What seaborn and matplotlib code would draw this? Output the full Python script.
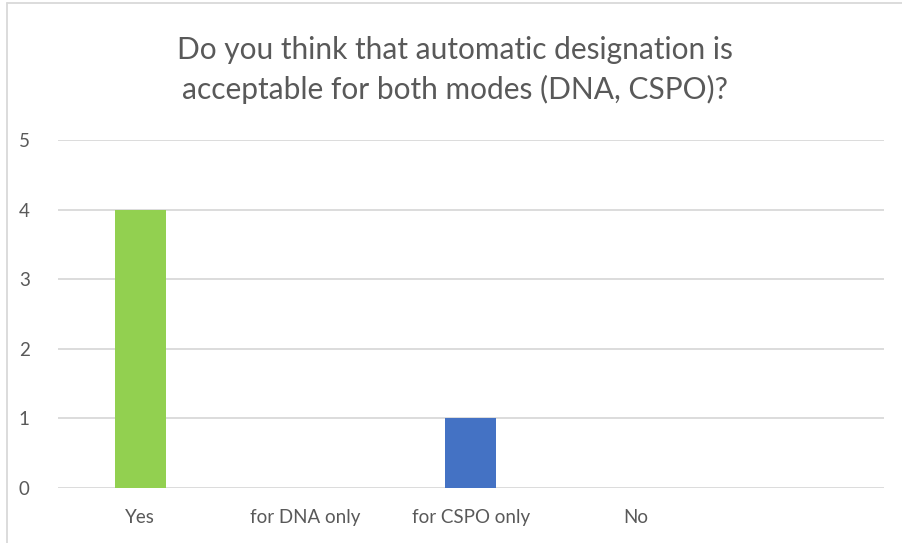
import pandas as pd
import matplotlib.pyplot as plt
import seaborn as sns
from matplotlib.lines import Line2D

# survey answers (last slot is an empty category in the source chart)
categories = ['Yes', 'for DNA only', 'for CSPO only', 'No', '']
counts = [4, 0, 1, 0, 0]
bar_colors = ['#92D050', '#4472C4', '#4472C4', '#4472C4', '#4472C4']
title = 'Do you think that automatic designation is\nacceptable for both modes (DNA, CSPO)?'

df = pd.DataFrame({'answer': categories, 'count': counts})

sns.set_style('white')
plt.rcParams['font.family'] = ['Lato', 'DejaVu Sans']

fig = plt.figure(figsize=(9.02, 5.43), dpi=100)
ax = fig.add_axes([57.5 / 902, 55 / 543, (884 - 57.5) / 902, (488 - 140) / 543])

sns.barplot(data=df, x='answer', y='count', hue='answer', palette=bar_colors,
            legend=False, width=0.31, ax=ax, saturation=1, linewidth=0)

ax.set_ylim(0, 5)
ax.set_xlim(-0.5, 4.5)
ax.set_yticks(range(0, 6))
ax.yaxis.grid(True, color='#D9D9D9', linewidth=1.3)
ax.set_axisbelow(True)
for s in ax.spines.values():
    s.set_visible(False)
ax.set_xlabel('')
ax.set_ylabel('')
ax.tick_params(axis='both', length=0, labelsize=13.5, labelcolor='#595959')
ax.tick_params(axis='y', pad=20)
ax.tick_params(axis='x', pad=15)

fig.text(455 / 902, 1 - 70 / 543, title, ha='center', va='center',
         fontsize=21.5, color='#595959', linespacing=1.45)

# chart area border (left and top edges visible in the crop)
fig.add_artist(Line2D([7 / 902, 7 / 902], [0, 1 - 3 / 543], color='#D9D9D9',
                      linewidth=1.3, transform=fig.transFigure))
fig.add_artist(Line2D([7 / 902, 1], [1 - 3 / 543, 1 - 3 / 543], color='#D9D9D9',
                      linewidth=1.3, transform=fig.transFigure))

plt.savefig('out.png', dpi=100)
plt.close()
